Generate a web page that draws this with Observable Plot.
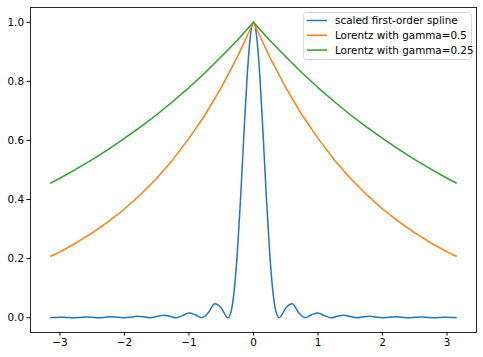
<!DOCTYPE html>
<html>
<head>
<meta charset="utf-8">
<script src="https://cdn.jsdelivr.net/npm/d3@7"></script>
<script src="https://cdn.jsdelivr.net/npm/@observablehq/plot@0.6"></script>
<style>
  html, body { margin: 0; padding: 0; background: white; }
</style>
</head>
<body>
<div id="chart"></div>
<script>
const seriesNames = ["scaled first-order spline", "Lorentz with gamma=0.5", "Lorentz with gamma=0.25"];
const seriesColors = ["#1f77b4", "#ff7f0e", "#2ca02c"];
const xTicks = [-3, -2, -1, 0, 1, 2, 3];
const yTicks = [0, 0.2, 0.4, 0.6, 0.8, 1.0];

const splineX = [-3.1416, -3.1, -3.0, -2.9, -2.8, -2.7, -2.6, -2.5, -2.4, -2.3, -2.2, -2.1, -2.0,
  -1.9, -1.8, -1.7, -1.6, -1.5, -1.4, -1.3, -1.2, -1.1, -1.0, -0.9, -0.8, -0.7, -0.6, -0.5, -0.4,
  -0.35, -0.3, -0.25, -0.2, -0.15, -0.1, -0.05, 0,
  0.05, 0.1, 0.15, 0.2, 0.25, 0.3, 0.35,
  0.4, 0.5, 0.6, 0.7, 0.8, 0.9, 1.0, 1.1, 1.2, 1.3, 1.4, 1.5, 1.6, 1.7, 1.8, 1.9, 2.0,
  2.1, 2.2, 2.3, 2.4, 2.5, 2.6, 2.7, 2.8, 2.9, 3.0, 3.1, 3.1416];
const splineY = [0.0003, 0.0008, 0.0018, 0.001, 0, 0.0011, 0.0024, 0.0013, 0, 0.0015, 0.003, 0.002, 0,
  0.002, 0.005, 0.003, 0, 0.004, 0.008, 0.005, 0, 0.007, 0.016, 0.010, 0, 0.017, 0.047, 0.033, 0,
  0.019, 0.090, 0.222, 0.405, 0.615, 0.811, 0.950, 1.0,
  0.950, 0.811, 0.615, 0.405, 0.222, 0.090, 0.019,
  0, 0.033, 0.047, 0.017, 0, 0.010, 0.016, 0.007, 0, 0.005, 0.008, 0.004, 0, 0.003, 0.005, 0.002, 0,
  0.002, 0.003, 0.0015, 0, 0.0013, 0.0024, 0.0011, 0, 0.001, 0.0018, 0.0008, 0.0003];

const lorentzX = [-3.1416, -3.0, -2.75, -2.5, -2.25, -2.0, -1.75, -1.5, -1.25, -1.0, -0.75, -0.5, -0.25, 0,
  0.25, 0.5, 0.75, 1.0, 1.25, 1.5, 1.75, 2.0, 2.25, 2.5, 2.75, 3.0, 3.1416];
const lorentzHalfY = [0.208, 0.223, 0.253, 0.287, 0.325, 0.368, 0.417, 0.472, 0.535, 0.607, 0.687, 0.779, 0.883, 1.0,
  0.883, 0.779, 0.687, 0.607, 0.535, 0.472, 0.417, 0.368, 0.325, 0.287, 0.253, 0.223, 0.208];
const lorentzQuarterY = [0.456, 0.472, 0.503, 0.535, 0.570, 0.607, 0.646, 0.687, 0.732, 0.779, 0.829, 0.883, 0.939, 1.0,
  0.939, 0.883, 0.829, 0.779, 0.732, 0.687, 0.646, 0.607, 0.570, 0.535, 0.503, 0.472, 0.456];

const splineData = splineX.map((x, i) => ({x, y: splineY[i]}));
const halfData = lorentzX.map((x, i) => ({x, y: lorentzHalfY[i]}));
const quarterData = lorentzX.map((x, i) => ({x, y: lorentzQuarterY[i]}));

const fmtX = d3.format("d");
const fmtY = d3.format(".1f");

const chart = Plot.plot({
  width: 483,
  height: 357,
  marginLeft: 30,
  marginRight: 7,
  marginTop: 7,
  marginBottom: 25,
  style: {fontFamily: "DejaVu Sans", fontSize: "10.4px", color: "black", background: "white"},
  x: {domain: [-3.456, 3.456]},
  y: {domain: [-0.05, 1.05]},
  marks: [
    Plot.axisX({ticks: xTicks, tickSize: 3.5, tickPadding: 3, label: null, tickFormat: fmtX, fontSize: 10.4}),
    Plot.axisY({ticks: yTicks, tickSize: 3.5, tickPadding: 3, label: null, tickFormat: fmtY, fontSize: 10.4}),
    Plot.line(splineData, {x: "x", y: "y", stroke: seriesColors[0], strokeWidth: 1.5, curve: "monotone-x"}),
    Plot.line(halfData, {x: "x", y: "y", stroke: seriesColors[1], strokeWidth: 1.5}),
    Plot.line(quarterData, {x: "x", y: "y", stroke: seriesColors[2], strokeWidth: 1.5}),
    Plot.frame({stroke: "#111", strokeWidth: 0.9})
  ]
});

document.getElementById("chart").appendChild(chart);

// Legend (inside the plot, upper right)
const svg = d3.select(chart);
const lg = svg.append("g")
  .attr("font-family", "DejaVu Sans")
  .attr("font-size", "10.4px")
  .attr("text-anchor", "start");
lg.append("rect")
  .attr("x", 303.5).attr("y", 12.5).attr("width", 168).attr("height", 47)
  .attr("rx", 3).attr("fill", "white").attr("fill-opacity", 0.8)
  .attr("stroke", "#d6d6d6").attr("stroke-width", 1);
seriesNames.forEach((name, i) => {
  const yy = 20.5 + i * 14.8;
  lg.append("line").attr("x1", 307).attr("x2", 327).attr("y1", yy).attr("y2", yy)
    .attr("stroke", seriesColors[i]).attr("stroke-width", 1.5);
  lg.append("text").attr("x", 335).attr("y", yy).attr("dy", "0.35em")
    .attr("text-anchor", "start")
    .attr("fill", "black").text(name);
});
</script>
</body>
</html>
